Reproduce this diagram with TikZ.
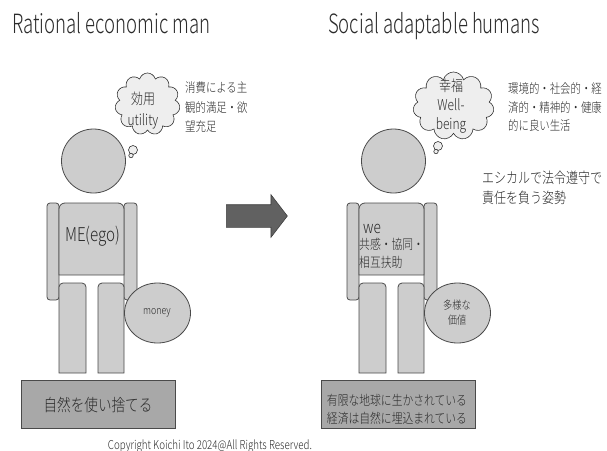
\documentclass[tikz,border=0pt]{standalone}
\usepackage{fontspec}
\setmainfont{Noto Sans CJK JP}[FakeStretch=0.8, UprightFont=* Light]
\newfontfamily\headfont{Noto Sans CJK JP}[FakeStretch=0.7, UprightFont=* Light]
\usepackage{tikz}
\usetikzlibrary{shapes.symbols,shapes.arrows}
\definecolor{bodygray}{HTML}{CDCDCD}
\definecolor{linegray}{HTML}{4A4A4A}
\definecolor{basegray}{HTML}{A8A8A8}
\definecolor{cloudgray}{HTML}{EEEEEE}
\definecolor{arrowgray}{HTML}{616161}
\definecolor{inkgray}{HTML}{2B2B2B}

\begin{document}
\begin{tikzpicture}[x=1pt,y=-1pt]
    \def\fs#1#2{\fontsize{#1}{#2}\selectfont}
    \newcounter{i}
    \tikzstyle{part}=[fill=bodygray, draw=linegray, line width=0.8pt]
    \tikzstyle{txt}=[text=inkgray, inner sep=0pt, align=center]
    \tikzstyle{note}=[txt, align=left, anchor=west]
    \tikzstyle{thought}=[cloud, cloud puffs=11, cloud ignores aspect, fill=cloudgray, draw=black!80, line width=0.6pt, inner sep=0pt]
    \tikzstyle{ground}=[fill=basegray, draw=linegray, line width=0.8pt, minimum width=154pt, minimum height=48pt, inner sep=0pt]

    \useasboundingbox (0,0) rectangle (607,450);

    % one standing figure, drawn at a given shift
    \def\person#1{
      \begin{scope}[xshift=#1]
        \filldraw[part, rounded corners=3] (47,203) rectangle (59,300);
        \filldraw[part, rounded corners=3] (124,203) rectangle (137,300);
        \filldraw[part] (59,275) [rounded corners=6] -- (59,203) -- (124,203) [sharp corners] -- (124,275) -- cycle;
        \filldraw[part] (59,373) [rounded corners=4] -- (59,283) -- (86,283) [sharp corners] -- (86,373) -- cycle;
        \filldraw[part] (98,373) [rounded corners=4] -- (98,283) -- (124,283) [sharp corners] -- (124,373) -- cycle;
        \filldraw[part] (93.5,161) circle (32);
        \filldraw[part] (157.5,313) ellipse (33 and 30);
      \end{scope}}
    \person{0}
    \person{300}

    % thought bubbles
    \filldraw[fill=cloudgray, draw=black!80, line width=0.6pt] (133,150) circle (4.5);
    \filldraw[fill=cloudgray, draw=black!80, line width=0.6pt] (131,155.5) circle (2.2);
    \filldraw[fill=cloudgray, draw=black!80, line width=0.6pt] (438,146) circle (4.5);
    \filldraw[fill=cloudgray, draw=black!80, line width=0.6pt] (436,151.5) circle (2.2);
    \stepcounter{i}\node[thought, minimum width=65pt, minimum height=62pt] (\arabic{i}) at (147.5,104) {};
    \stepcounter{i}\node[thought, minimum width=81pt, minimum height=68pt] (\arabic{i}) at (453.5,106) {};

    \stepcounter{i}\node[ground] (\arabic{i}) at (98,404) {};
    \stepcounter{i}\node[ground] (\arabic{i}) at (398,404) {};

    \stepcounter{i}\node[single arrow, fill=arrowgray, draw=black!75, line width=0.6pt, minimum height=61pt, inner sep=11pt, single arrow head extend=10pt, single arrow tip angle=105] (\arabic{i}) at (252.5,216) {};

    \stepcounter{i}\node[txt, anchor=base west, font=\headfont\fs{26.5}{30}] (\arabic{i}) at (12,33) {Rational economic man};
    \stepcounter{i}\node[txt, anchor=base west, font=\headfont\fs{26.5}{30}] (\arabic{i}) at (328,33) {Social adaptable humans};

    \stepcounter{i}\node[txt, font=\fs{15}{21}] (\arabic{i}) at (143,110.5) {効用\\utility};
    \stepcounter{i}\node[txt, font=\fs{15}{19}] (\arabic{i}) at (451,106) {幸福\\Well-\\being};
    \stepcounter{i}\node[note, font=\fs{13}{19.5}] (\arabic{i}) at (185,107.5) {消費による主\\観的満足・欲\\望充足};
    \stepcounter{i}\node[note, font=\fs{13}{18.5}] (\arabic{i}) at (508,107.5) {環境的・社会的・経\\済的・精神的・健康\\的に良い生活};
    \stepcounter{i}\node[note, font=\fs{15}{20}] (\arabic{i}) at (482,188) {エシカルで法令遵守で\\責任を負う姿勢};

    \stepcounter{i}\node[txt, font=\fs{19}{22}] (\arabic{i}) at (93,236) {ME(ego)};
    \stepcounter{i}\node[note, font=\fs{17}{20}] (\arabic{i}) at (363,229) {we};
    \stepcounter{i}\node[note, font=\fs{13.5}{18}] (\arabic{i}) at (359,253) {共感・協同・\\相互扶助};
    \stepcounter{i}\node[txt, font=\fs{11}{13}] (\arabic{i}) at (157,313) {money};
    \stepcounter{i}\node[txt, font=\fs{11.5}{15}] (\arabic{i}) at (457,312.5) {多様な\\価値};

    \stepcounter{i}\node[txt, font=\fs{17}{20}] (\arabic{i}) at (98,405) {自然を使い捨てる};
    \stepcounter{i}\node[txt, font=\fs{13.5}{18}] (\arabic{i}) at (397,409) {有限な地球に生かされている\\経済は自然に埋込まれている};

    \stepcounter{i}\node[txt, anchor=base, font=\fs{12.2}{14}] (\arabic{i}) at (210,449.5) {Copyright Koichi Ito 2024@All Rights Reserved.};
\end{tikzpicture}
\end{document}
